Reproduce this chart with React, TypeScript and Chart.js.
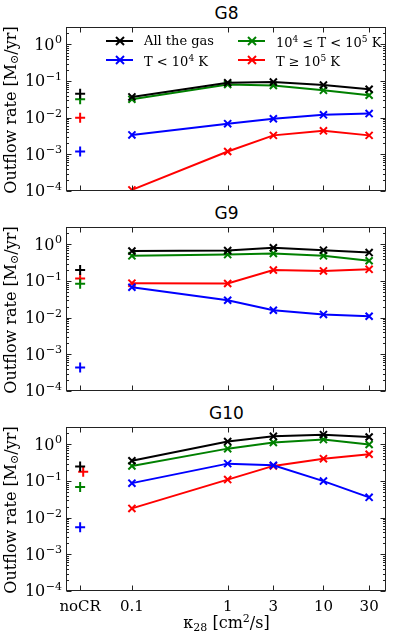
import React, { useEffect, useRef } from "react";
import { Chart, registerables } from "chart.js";
Chart.register(...registerables);

const SERIF = "'DejaVu Serif', serif";
const SANS = "'DejaVu Sans', sans-serif";

const KAPPA = [0.1, 1, 3, 10, 30];
const NOCR_X = 0.0288;
const X_TICK_VALUES = [NOCR_X, 0.1, 1, 3, 10, 30];
const X_TICK_LABELS = ["noCR", "0.1", "1", "3", "10", "30"];
const Y_TICK_VALUES = [1e-4, 1e-3, 1e-2, 1e-1, 1];
const Y_TICK_BASE = "10";
const Y_TICK_EXPONENTS = ["−4", "−3", "−2", "−1", "0"];
const X_MIN = 0.0205;
const X_MAX = 45;
const Y_MIN = 1e-4;
const Y_MAX = 3;

// order: all gas, cold (T<1e4), warm (1e4<=T<1e5), hot (T>=1e5)
const SERIES_NAMES = ["All the gas", "T < 10⁴ K", "10⁴ ≤ T < 10⁵ K", "T ≥ 10⁵ K"];
const SERIES_COLORS = ["#000000", "#0000ff", "#008000", "#ff0000"];

// G8
const G8_ALL = [0.037, 0.09, 0.094, 0.078, 0.06];
const G8_COLD = [0.0034, 0.0069, 0.0094, 0.012, 0.013];
const G8_WARM = [0.032, 0.081, 0.076, 0.056, 0.041];
const G8_HOT = [0.000107, 0.0012, 0.0033, 0.0044, 0.0033];
const G8_NOCR = [0.045, 0.0012, 0.032, 0.01];
const G8_NOCR_X = [NOCR_X, NOCR_X, NOCR_X, NOCR_X];

// G9
const G9_ALL = [0.66, 0.68, 0.81, 0.7, 0.6];
const G9_COLD = [0.068, 0.03, 0.016, 0.0123, 0.011];
const G9_WARM = [0.49, 0.53, 0.57, 0.49, 0.36];
const G9_HOT = [0.088, 0.086, 0.2, 0.19, 0.21];
const G9_NOCR = [0.2, 0.00044, 0.085, 0.118];
const G9_NOCR_X = [NOCR_X, NOCR_X, NOCR_X, NOCR_X];

// G10
const G10_ALL = [0.36, 1.2, 1.67, 1.85, 1.6];
const G10_COLD = [0.088, 0.3, 0.27, 0.1, 0.036];
const G10_WARM = [0.26, 0.77, 1.13, 1.36, 1.0];
const G10_HOT = [0.018, 0.11, 0.26, 0.41, 0.54];
const G10_NOCR = [0.25, 0.0055, 0.069, 0.18];
const G10_NOCR_X = [NOCR_X, NOCR_X, NOCR_X, 0.031];

const framePlugin = {
  id: "frame",
  afterDraw(chart: any) {
    const { ctx, chartArea: a } = chart;
    const xs = chart.scales.x;
    const ys = chart.scales.y;
    ctx.save();
    ctx.strokeStyle = "#222";
    ctx.lineWidth = 1;
    const L = Math.round(a.left) + 0.5;
    const R = Math.round(a.right) - 0.5;
    const T = Math.round(a.top) + 0.5;
    const B = Math.round(a.bottom) - 0.5;
    ctx.strokeRect(L, T, R - L, B - T);
    ctx.beginPath();
    for (const v of X_TICK_VALUES) {
      const px = Math.round(xs.getPixelForValue(v)) + 0.5;
      ctx.moveTo(px, B);
      ctx.lineTo(px, B - 5);
      ctx.moveTo(px, T);
      ctx.lineTo(px, T + 5);
    }
    for (let e = -4; e <= 0; e++) {
      for (let m = 1; m <= 9; m++) {
        const v = m * Math.pow(10, e);
        if (v < Y_MIN || v > Y_MAX) continue;
        const py = Math.round(ys.getPixelForValue(v)) + 0.5;
        const len = m === 1 ? 5 : 2.5;
        ctx.moveTo(L, py);
        ctx.lineTo(L + len, py);
        ctx.moveTo(R, py);
        ctx.lineTo(R - len, py);
      }
    }
    ctx.stroke();

    // y tick labels as 10^n with real superscripts
    ctx.fillStyle = "#000";
    const rightEdge = a.left - 4;
    Y_TICK_VALUES.forEach((v, i) => {
      const py = ys.getPixelForValue(v);
      const exp = Y_TICK_EXPONENTS[i];
      ctx.font = `11px ${SERIF}`;
      const ew = ctx.measureText(exp).width;
      ctx.textAlign = "left";
      ctx.textBaseline = "alphabetic";
      ctx.fillText(exp, rightEdge - ew, py - 1);
      ctx.font = `16px ${SERIF}`;
      ctx.textAlign = "right";
      ctx.textBaseline = "middle";
      ctx.fillText(Y_TICK_BASE, rightEdge - ew - 0.5, py + 1);
    });
    ctx.restore();
  },
};

const zeroPad = (s: any) => {
  s.paddingTop = 0;
  s.paddingBottom = 0;
  s.paddingLeft = 0;
  s.paddingRight = 0;
};

type PanelProps = {
  top: number;
  height: number;
  title: string;
  series: number[][];
  nocr: number[];
  nocrX: number[];
  showX: boolean;
  legend?: boolean;
};

function Panel({ top, height, title, series, nocr, nocrX, showX, legend }: PanelProps) {
  const ref = useRef<HTMLCanvasElement>(null);
  useEffect(() => {
    const datasets: any[] = [];
    series.forEach((vals, i) => {
      datasets.push({
        label: SERIES_NAMES[i],
        data: KAPPA.map((k, j) => ({ x: k, y: vals[j] })),
        borderColor: SERIES_COLORS[i],
        backgroundColor: SERIES_COLORS[i],
        borderWidth: 2,
        pointStyle: "crossRot",
        pointRadius: 5,
        pointBorderWidth: 2,
        showLine: true,
        tension: 0,
      });
    });
    nocr.forEach((v, i) => {
      datasets.push({
        label: SERIES_NAMES[i] + " noCR",
        data: [{ x: nocrX[i], y: v }],
        borderColor: SERIES_COLORS[i],
        backgroundColor: SERIES_COLORS[i],
        pointStyle: "cross",
        pointRadius: 5,
        pointBorderWidth: 2,
        showLine: false,
      });
    });
    const chart = new Chart(ref.current as HTMLCanvasElement, {
      type: "line",
      data: { datasets },
      options: {
        animation: false,
        responsive: false,
        maintainAspectRatio: false,
        layout: { padding: { top: 4, right: 6, bottom: showX ? 0 : 9, left: 0 } },
        plugins: {
          legend: { display: false },
          title: { display: false },
          tooltip: { enabled: false },
        },
        scales: {
          x: {
            type: "logarithmic",
            min: X_MIN,
            max: X_MAX,
            grid: { display: false, drawTicks: false },
            border: { display: false },
            afterBuildTicks: (s: any) => {
              s.ticks = X_TICK_VALUES.map((v) => ({ value: v }));
            },
            afterFit: (s: any) => {
              s.height = showX ? 45 : 0;
              zeroPad(s);
            },
            ticks: {
              display: showX,
              autoSkip: false,
              maxRotation: 0,
              padding: 7,
              color: "#000",
              font: { family: SERIF, size: 15 },
              callback: (_v: any, i: number) => X_TICK_LABELS[i],
            },
            title: { display: false },
          },
          y: {
            type: "logarithmic",
            min: Y_MIN,
            max: Y_MAX,
            grid: { display: false, drawTicks: false },
            border: { display: false },
            afterBuildTicks: (s: any) => {
              s.ticks = Y_TICK_VALUES.map((v) => ({ value: v }));
            },
            afterFit: (s: any) => {
              s.width = 66;
              zeroPad(s);
            },
            ticks: { display: false },
            title: { display: false },
          },
        },
      } as any,
      plugins: [framePlugin],
    });
    return () => chart.destroy();
  }, []);

  const areaTop = top + 4;
  const areaBottom = top + height - (showX ? 45 : 9);
  const mid = (areaTop + areaBottom) / 2 + 2;

  return (
    <>
      <div
        style={{
          position: "absolute",
          left: 66,
          width: 321,
          top: top - 18,
          height: 22,
          textAlign: "center",
          fontFamily: SANS,
          fontSize: 17,
          lineHeight: "22px",
          color: "#000",
        }}
      >
        {title}
      </div>
      <canvas
        ref={ref}
        width={393}
        height={height}
        style={{ position: "absolute", left: 0, top, width: 393, height }}
      />
      <div
        style={{
          position: "absolute",
          left: 11 - 100,
          top: mid - 11,
          width: 200,
          height: 22,
          lineHeight: "22px",
          textAlign: "center",
          transform: "rotate(-90deg)",
          fontFamily: SERIF,
          fontSize: 16,
          color: "#000",
          whiteSpace: "nowrap",
        }}
      >
        Outflow rate [M<sub style={{ fontSize: 11, verticalAlign: "-2px" }}>⊙</sub>/yr]
      </div>
      {showX ? (
        <div
          style={{
            position: "absolute",
            left: 66,
            width: 321,
            top: top + height - 28,
            height: 22,
            lineHeight: "22px",
            textAlign: "center",
            fontFamily: SERIF,
            fontSize: 16,
            color: "#000",
            whiteSpace: "nowrap",
          }}
        >
          κ<sub style={{ fontSize: 11, verticalAlign: "-3px" }}>28</sub> [cm
          <sup style={{ fontSize: 11, verticalAlign: "6px" }}>2</sup>/s]
        </div>
      ) : null}
      {legend ? <Legend /> : null}
    </>
  );
}

const supStyle = { fontSize: 9, verticalAlign: "5px" } as const;
const LEGEND_LABELS = [
  <>All the gas</>,
  <>
    T &lt; 10<sup style={supStyle}>4</sup> K
  </>,
  <>
    10<sup style={supStyle}>4</sup> ≤ T &lt; 10<sup style={supStyle}>5</sup> K
  </>,
  <>
    T ≥ 10<sup style={supStyle}>5</sup> K
  </>,
];

function LegendItem({ x, y, i }: { x: number; y: number; i: number }) {
  const c = SERIES_COLORS[i];
  return (
    <div style={{ position: "absolute", left: x, top: y - 10, height: 20, display: "flex", alignItems: "center" }}>
      <svg width={28} height={20} style={{ display: "block" }}>
        <line x1={0} y1={10} x2={27} y2={10} stroke={c} strokeWidth={2} />
        <line x1={10} y1={6} x2={18} y2={14} stroke={c} strokeWidth={2} />
        <line x1={10} y1={14} x2={18} y2={6} stroke={c} strokeWidth={2} />
      </svg>
      <span
        title={SERIES_NAMES[i]}
        style={{
          marginLeft: 10,
          fontFamily: SERIF,
          fontSize: 13,
          lineHeight: "20px",
          color: "#000",
          whiteSpace: "nowrap",
        }}
      >
        {LEGEND_LABELS[i]}
      </span>
    </div>
  );
}

function Legend() {
  return (
    <>
      <LegendItem x={106} y={41} i={0} />
      <LegendItem x={106} y={60} i={1} />
      <LegendItem x={238} y={41} i={2} />
      <LegendItem x={238} y={60} i={3} />
    </>
  );
}

export default function App() {
  return (
    <div style={{ position: "fixed", left: 0, top: 0, width: 393, height: 636, background: "#fff", overflow: "hidden" }}>
      <Panel
        top={20}
        height={180}
        title="G8"
        series={[G8_ALL, G8_COLD, G8_WARM, G8_HOT]}
        nocr={G8_NOCR}
        nocrX={G8_NOCR_X}
        showX={false}
        legend
      />
      <Panel
        top={220}
        height={180}
        title="G9"
        series={[G9_ALL, G9_COLD, G9_WARM, G9_HOT]}
        nocr={G9_NOCR}
        nocrX={G9_NOCR_X}
        showX={false}
      />
      <Panel
        top={420}
        height={216}
        title="G10"
        series={[G10_ALL, G10_COLD, G10_WARM, G10_HOT]}
        nocr={G10_NOCR}
        nocrX={G10_NOCR_X}
        showX={true}
      />
    </div>
  );
}
